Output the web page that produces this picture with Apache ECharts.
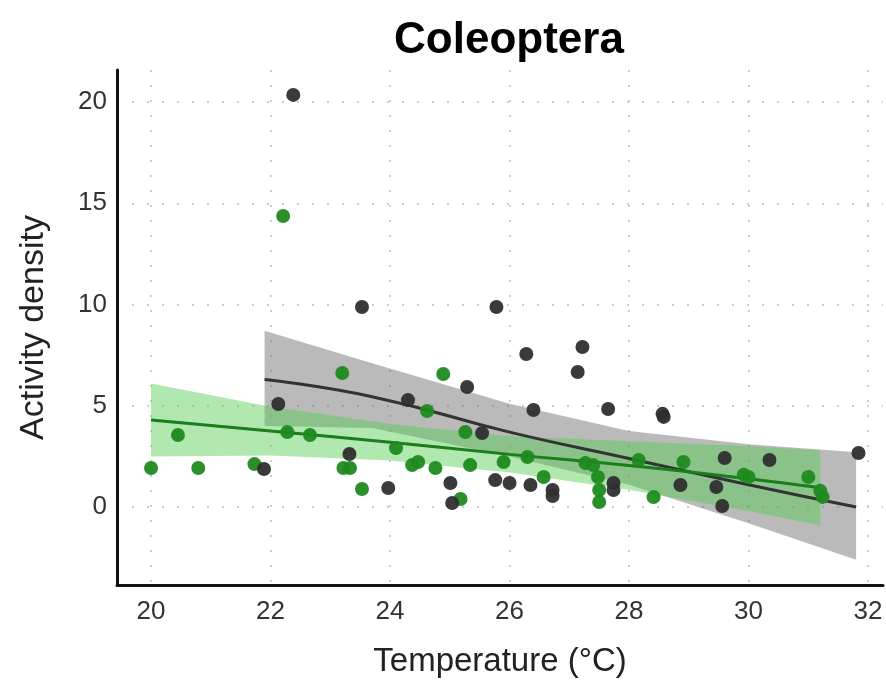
<!DOCTYPE html>
<html>
<head>
<meta charset="utf-8">
<script src="https://cdn.jsdelivr.net/npm/echarts@6/dist/echarts.min.js"></script>
<style>
  html, body { margin: 0; padding: 0; background: #fff; }
  #chart { width: 886px; height: 689px; }
</style>
</head>
<body>
<div id="chart"></div>
<script>
// ticks
var xTicks = [20, 22, 24, 26, 28, 30, 32];
var yTicks = [0, 5, 10, 15, 20];

// dark (grey) group points
var darkX = [22.38, 22.13, 21.89, 23.53, 23.97, 24.30, 25.78, 25.29, 26.28, 26.40, 25.54, 25.01, 25.04, 25.76, 26.00, 26.35, 26.72, 26.72, 23.32, 27.22, 27.14, 27.65, 28.56, 28.58, 27.74, 27.74, 28.86, 29.60, 30.35, 31.84, 29.46, 29.56];
var darkY = [20.35, 5.09, 1.88, 9.88, 0.94, 5.28, 9.88, 5.93, 7.56, 4.79, 3.65, 1.19, 0.20, 1.33, 1.19, 1.09, 0.84, 0.54, 2.62, 7.90, 6.67, 4.84, 4.60, 4.45, 1.19, 0.84, 1.09, 2.42, 2.32, 2.67, 0.99, 0.05];

// green group points
var greenX = [20.00, 20.45, 20.79, 21.73, 22.21, 22.28, 22.66, 23.20, 23.22, 23.33, 23.53, 24.10, 24.37, 24.47, 24.76, 24.89, 24.62, 25.26, 25.34, 25.18, 25.90, 26.30, 26.57, 27.27, 27.40, 27.48, 27.50, 27.50, 28.16, 28.41, 28.91, 29.92, 30.00, 31.00, 31.20, 31.24];
var greenY = [1.93, 3.56, 1.93, 2.12, 14.37, 3.70, 3.56, 6.62, 1.93, 1.93, 0.89, 2.91, 2.07, 2.22, 1.93, 6.57, 4.74, 3.70, 2.07, 0.40, 2.22, 2.47, 1.48, 2.17, 2.07, 1.48, 0.84, 0.25, 2.32, 0.49, 2.22, 1.60, 1.48, 1.48, 0.80, 0.50];

// fitted lines and confidence bands
var darkFitX = [21.9, 23.7, 26, 28, 30, 31.8];
var darkFitY = [6.3, 5.45, 3.7, 2.4, 1.1, 0.0];
var darkUpper = [8.7, 7.1, 5.1, 3.75, 3.1, 2.7];
var darkLower = [4.0, 3.9, 2.5, 1.1, -0.8, -2.6];

var greenFitX = [20, 22, 24, 26, 28, 30, 31.2];
var greenFitY = [4.3, 3.75, 3.2, 2.6, 2.05, 1.4, 0.95];
var greenUpper = [6.1, 4.95, 4.1, 3.5, 3.25, 3.0, 2.8];
var greenLower = [2.5, 2.55, 2.3, 1.7, 0.85, -0.2, -0.9];

var font = 'Liberation Sans, Arial, sans-serif';

function zip(xs, ys) {
    return xs.map(function(x, i) { return [x, ys[i]]; });
}

function band(xs, lo, hi, fill) {
    return {
        type: 'custom',
        silent: true,
        z: 1,
        data: xs.map(function(x, i) { return [x, lo[i], hi[i]]; }),
        renderItem: function(params, api) {
            if (params.dataIndex !== 0) return null;
            var pts = [];
            for (var i = 0; i < xs.length; i++) pts.push(api.coord([xs[i], hi[i]]));
            for (var j = xs.length - 1; j >= 0; j--) pts.push(api.coord([xs[j], lo[j]]));
            return { type: 'polygon', shape: { points: pts }, style: { fill: fill } };
        }
    };
}

var splitStyle = { show: true, lineStyle: { color: '#cdcdcd', width: 2, type: [2, 13] } };

var option = {
    animation: false,
    title: {
        text: 'Coleoptera',
        left: 504,
        top: 14,
        textAlign: 'center',
        textStyle: { fontFamily: font, fontSize: 44, fontWeight: 'bold', color: '#000' }
    },
    grid: { left: 117, right: 3, top: 70, bottom: 104 },
    xAxis: {
        type: 'value',
        min: 19.43,
        max: 32.25,
        name: 'Temperature (°C)',
        nameLocation: 'middle',
        nameGap: 60,
        nameTextStyle: { fontFamily: font, fontSize: 33, color: '#222' },
        axisLine: { onZero: false, lineStyle: { color: '#111', width: 3 } },
        axisTick: { show: true, length: 0, customValues: xTicks },
        axisLabel: { customValues: xTicks, fontFamily: font, fontSize: 26, color: '#333', margin: 14 },
        splitLine: splitStyle
    },
    yAxis: {
        type: 'value',
        min: -3.85,
        max: 21.58,
        name: 'Activity density',
        nameLocation: 'middle',
        nameGap: 66,
        nameTextStyle: { fontFamily: font, fontSize: 34, color: '#222' },
        axisLine: { show: true, onZero: false, lineStyle: { color: '#111', width: 3 } },
        axisTick: { show: true, length: 0, customValues: yTicks },
        axisLabel: { customValues: yTicks, fontFamily: font, fontSize: 26, color: '#333', margin: 10 },
        splitLine: splitStyle
    },
    series: [
        band(darkFitX, darkLower, darkUpper, 'rgba(105,105,105,0.46)'),
        band(greenFitX, greenLower, greenUpper, 'rgba(80,205,80,0.45)'),
        {
            type: 'line',
            data: zip(darkFitX, darkFitY),
            smooth: true,
            showSymbol: false,
            lineStyle: { color: '#333', width: 3 },
            z: 2
        },
        {
            type: 'line',
            data: zip(greenFitX, greenFitY),
            smooth: true,
            showSymbol: false,
            lineStyle: { color: '#1c7d1c', width: 3 },
            z: 2
        },
        {
            type: 'scatter',
            data: zip(greenX, greenY),
            symbolSize: 14,
            itemStyle: { color: '#1f8a1f', opacity: 0.95 },
            z: 3
        },
        {
            type: 'scatter',
            data: zip(darkX, darkY),
            symbolSize: 14,
            itemStyle: { color: '#2f2f2f', opacity: 0.95 },
            z: 3
        }
    ]
};

var chart = echarts.init(document.getElementById('chart'));
chart.setOption(option);
window.onresize = function() {
    chart.resize();
};
</script>
</body>
</html>
